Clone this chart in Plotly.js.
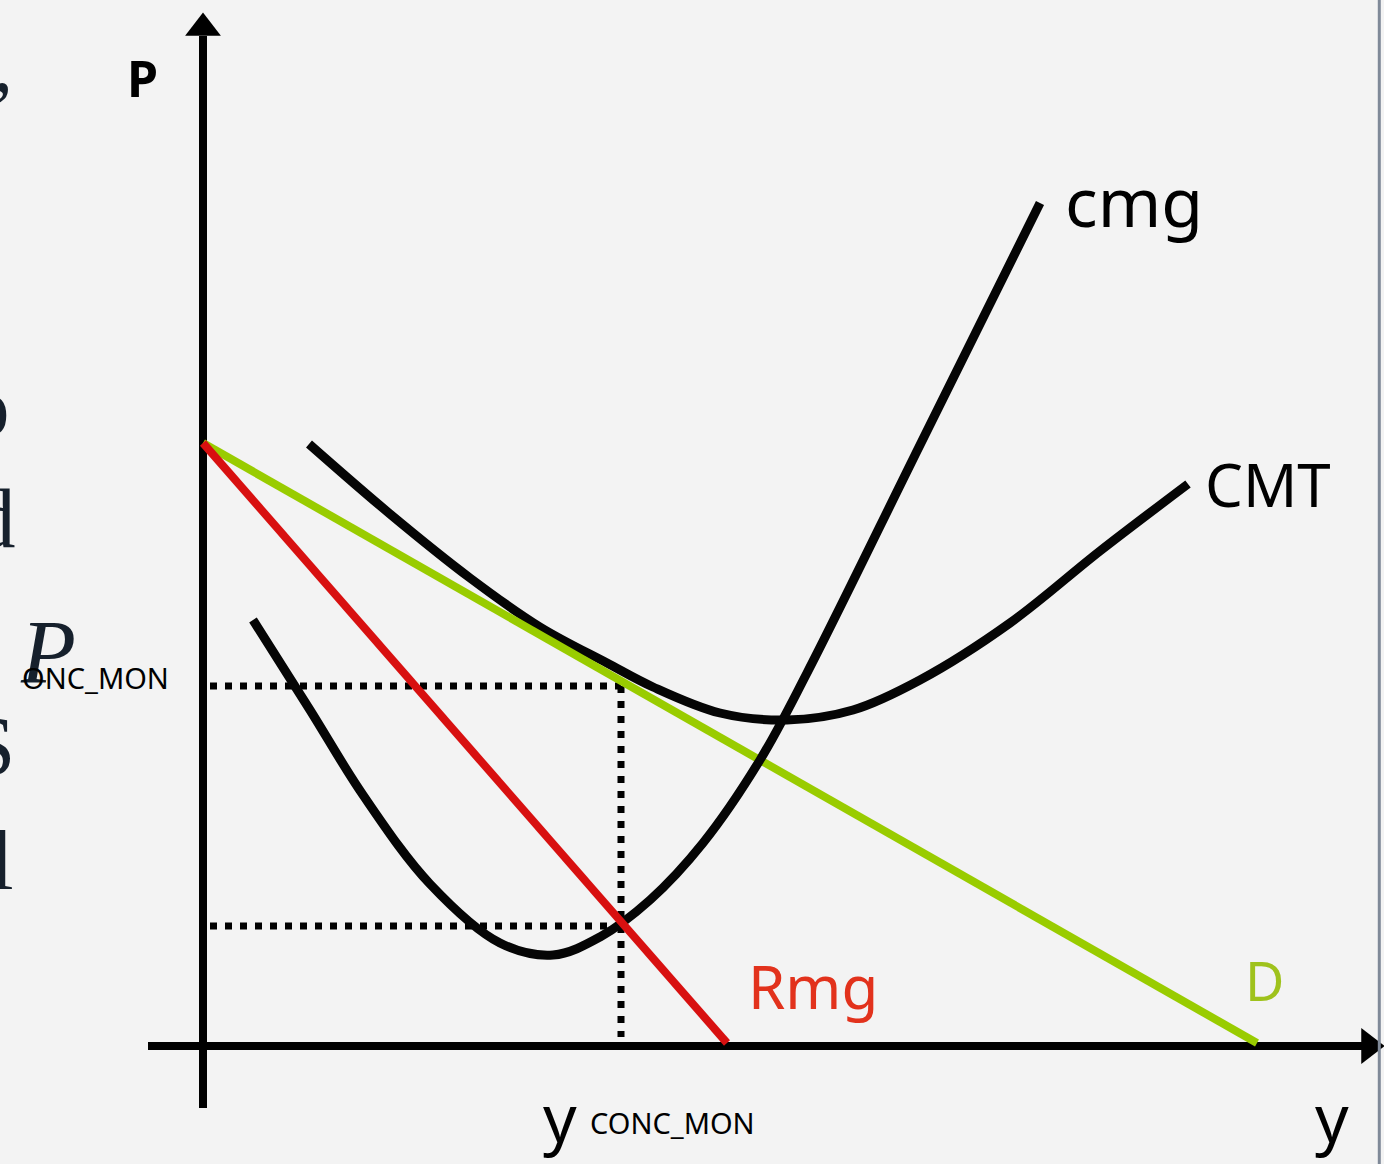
<!DOCTYPE html>
<html>
<head>
<meta charset="utf-8">
<script src="https://cdn.plot.ly/plotly-3.0.1.min.js"></script>
<style>
  html, body { margin: 0; padding: 0; background: #f3f3f3; }
  #chart { width: 1384px; height: 1164px; }
</style>
</head>
<body>
<div id="chart"></div>
<script>
// units: distance from the origin of the sketch (quantity y right, price p up)
const rmgX = [0, 524];
const rmgY = [603, 3];

const demandX = [0, 1054];
const demandY = [603, 3];

const cmtX = [106, 187, 267, 337, 404, 450, 517, 584, 650, 717, 807, 897, 985];
const cmtY = [602, 532, 468, 419, 383, 359, 333, 326, 336, 366, 423, 495, 562];

const cmgX = [50, 107, 160, 227, 297, 350, 397, 447, 500, 557, 604, 717, 837];
const cmgY = [426, 336, 251, 162, 103, 91, 109, 146, 203, 286, 373, 601, 843];

// monopoly point: quantity, price, marginal cost
const yMon = 418;
const pMon = 360;
const cmgMon = 120;

const axisX = [-55, 1160];
const axisY = [-62, 1010];
const axisEnd = [1166, 1018];

const hand = 'Noto Sans, DejaVu Sans, sans-serif';
const serif = 'Liberation Serif, DejaVu Serif, serif';

function line(xs, ys, color, width, dash) {
  return {
    x: xs, y: ys,
    type: 'scatter',
    mode: 'lines',
    line: {color: color, width: width, dash: dash || 'solid'},
    connectgaps: false,
    hoverinfo: 'skip',
    showlegend: false
  };
}

function curve(xs, ys) {
  let t = line(xs, ys, '#050505', 9);
  t.line.shape = 'spline';
  t.line.smoothing = 1;
  return t;
}

var traces = [];

// axes
traces.push(line([0, 0], axisY, '#000', 8));
traces.push(line(axisX, [0, 0], '#000', 8));
traces.push({
  x: [0, axisEnd[0]], y: [axisEnd[1], 0],
  type: 'scatter', mode: 'markers',
  marker: {symbol: ['triangle-up', 'triangle-right'], size: 31, color: '#000'},
  hoverinfo: 'skip', showlegend: false
});

// dotted guides
traces.push(line([7, yMon, null, yMon, yMon, null, 7, yMon],
                 [pMon, pMon, null, pMon, 9, null, cmgMon, cmgMon],
                 '#000', 7, '7px,8px'));

traces.push(curve(cmtX, cmtY));
traces.push(line(demandX, demandY, '#99cc00', 8));
traces.push(curve(cmgX, cmgY));
traces.push(line(rmgX, rmgY, '#d81010', 8));

function label(text, x, y, size, color, font, opts) {
  return Object.assign({
    x: x, y: y, xref: 'x', yref: 'y',
    text: text, showarrow: false,
    xanchor: 'left', yanchor: 'middle',
    font: {family: font, size: size, color: color}
  }, opts || {});
}

var annotations = [
  label('P', -61, 968, 50, '#000', hand, {xanchor: 'center', font: {family: hand, size: 50, color: '#000', weight: 700}}),
  label('cmg', 860, 846, 68, '#000', hand),
  label('CMT', 1000, 562, 60, '#000', hand),
  label('Rmg', 543, 60, 60, '#e2321c', hand),
  label('D', 1040, 66, 54, '#9fc21c', hand),
  label('P', -155, 394, 90, '#16202c', serif, {xanchor: 'center', font: {family: serif, size: 90, color: '#16202c', style: 'italic'}}),
  label('ONC_MON', -183, 369, 29, '#000', hand),
  label('y', 338, -70, 66, '#000', hand),
  label('CONC_MON', 385, -76, 29, '#000', hand),
  label('y', 1110, -70, 66, '#000', hand),
  // pieces of the slide text cut off at the left edge
  label(',', -188, 982, 80, '#16202c', serif, {xanchor: 'right'}),
  label('o', -191, 640, 85, '#16202c', serif, {xanchor: 'right'}),
  label('d', -185, 528, 85, '#16202c', serif, {xanchor: 'right'}),
  label('S', -186, 300, 85, '#16202c', serif, {xanchor: 'right'}),
  label('l', -187, 186, 85, '#16202c', serif, {xanchor: 'right'})
];

let layout = {
  width: 1384,
  height: 1164,
  margin: {l: 0, r: 0, t: 0, b: 0},
  paper_bgcolor: '#f3f3f3',
  plot_bgcolor: '#f3f3f3',
  showlegend: false,
  xaxis: {range: [-203, 1181], visible: false, fixedrange: true},
  yaxis: {range: [-118, 1046], visible: false, fixedrange: true},
  annotations: annotations,
  shapes: [
    {type: 'line', xref: 'paper', yref: 'paper', x0: 0.9966, x1: 0.9966, y0: 0, y1: 1,
     line: {color: '#7f8998', width: 3}}
  ]
};

Plotly.newPlot('chart', traces, layout, {staticPlot: true});
</script>
</body>
</html>
